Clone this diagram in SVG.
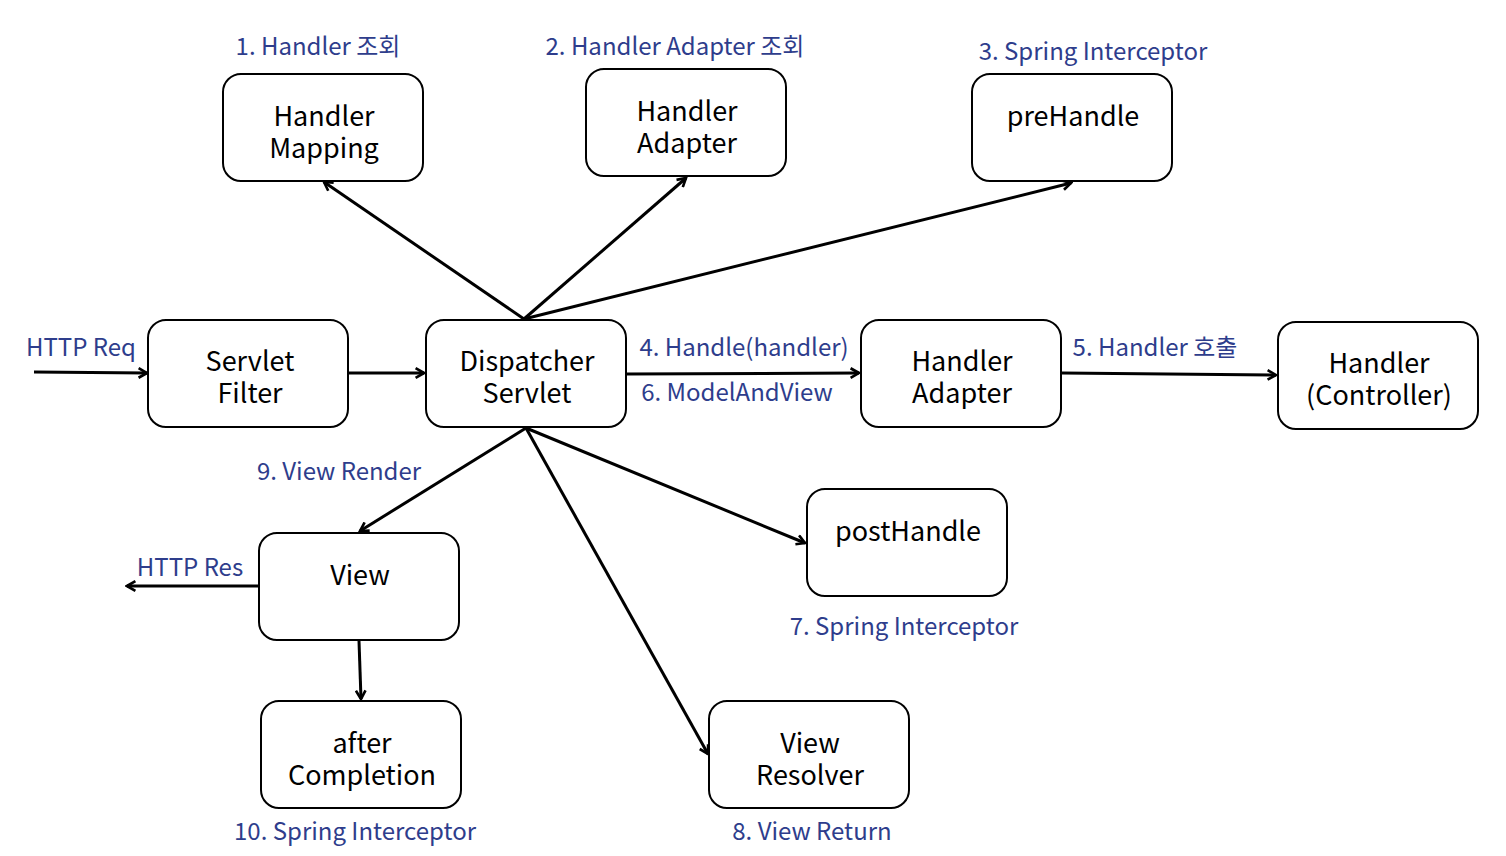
<svg xmlns="http://www.w3.org/2000/svg" width="1506" height="856" viewBox="0 0 1506 856">
<style>
.box{fill:#fff;stroke:#000;stroke-width:2}
.t{font-family:"Noto Sans CJK KR","Noto Sans",sans-serif;font-size:27px;fill:#000;text-anchor:middle;dominant-baseline:central}
.l{font-family:"Noto Sans CJK KR","Noto Sans",sans-serif;font-size:24px;fill:#2e3d8c;text-anchor:middle;dominant-baseline:central}
.c{stroke:#000;stroke-width:3;fill:none;marker-end:url(#arr)}
</style>
<defs>
<marker id="arr" viewBox="0 0 10 10" refX="8" refY="5" markerWidth="4" markerHeight="4" orient="auto" markerUnits="strokeWidth">
<path d="M1,1 L8,5 L1,9" fill="none" stroke="#000" stroke-width="2.2" stroke-linejoin="miter"/>
</marker>
</defs>
<rect width="1506" height="856" fill="#fff"/>
<g id="connectors">
<line class="c" x1="34" y1="372" x2="147" y2="373"/>
<line class="c" x1="349" y1="373" x2="424" y2="373"/>
<line class="c" x1="627" y1="374" x2="859" y2="373"/>
<line class="c" x1="1062" y1="373" x2="1276" y2="375"/>
<line class="c" x1="524" y1="319" x2="324" y2="182"/>
<line class="c" x1="524" y1="319" x2="686" y2="178"/>
<line class="c" x1="524" y1="319" x2="1071" y2="183"/>
<line class="c" x1="526" y1="428" x2="360" y2="531"/>
<line class="c" x1="526" y1="428" x2="805" y2="543"/>
<line class="c" x1="526" y1="428" x2="708" y2="754"/>
<line class="c" x1="258" y1="586" x2="127" y2="586"/>
<line class="c" x1="359" y1="641" x2="361" y2="699"/>
</g>
<g id="handler-mapping"><rect class="box" x="223" y="74" width="200" height="107" rx="18"/><text class="t" x="324" y="114">Handler</text><text class="t" x="324" y="146">Mapping</text></g>
<g id="handler-adapter-top"><rect class="box" x="586" y="69" width="200" height="107" rx="18"/><text class="t" x="687" y="109">Handler</text><text class="t" x="687" y="141">Adapter</text></g>
<g id="prehandle"><rect class="box" x="972" y="74" width="200" height="107" rx="18"/><text class="t" x="1073" y="114">preHandle</text></g>
<g id="servlet-filter"><rect class="box" x="148" y="320" width="200" height="107" rx="18"/><text class="t" x="250" y="359">Servlet</text><text class="t" x="250" y="391">Filter</text></g>
<g id="dispatcher-servlet"><rect class="box" x="426" y="320" width="200" height="107" rx="18"/><text class="t" x="527" y="359">Dispatcher</text><text class="t" x="527" y="391">Servlet</text></g>
<g id="handler-adapter-mid"><rect class="box" x="861" y="320" width="200" height="107" rx="18"/><text class="t" x="962" y="359">Handler</text><text class="t" x="962" y="391">Adapter</text></g>
<g id="handler-controller"><rect class="box" x="1278" y="322" width="200" height="107" rx="18"/><text class="t" x="1379" y="361">Handler</text><text class="t" x="1379" y="393">(Controller)</text></g>
<g id="posthandle"><rect class="box" x="807" y="489" width="200" height="107" rx="18"/><text class="t" x="908" y="529">postHandle</text></g>
<g id="view"><rect class="box" x="259" y="533" width="200" height="107" rx="18"/><text class="t" x="360" y="573">View</text></g>
<g id="after-completion"><rect class="box" x="261" y="701" width="200" height="107" rx="18"/><text class="t" x="362" y="741">after</text><text class="t" x="362" y="773">Completion</text></g>
<g id="view-resolver"><rect class="box" x="709" y="701" width="200" height="107" rx="18"/><text class="t" x="810" y="741">View</text><text class="t" x="810" y="773">Resolver</text></g>
<g id="labels">
<text class="l" x="318" y="44">1. Handler 조회</text>
<text class="l" x="675" y="44">2. Handler Adapter 조회</text>
<text class="l" x="1093" y="49">3. Spring Interceptor</text>
<text class="l" x="81" y="345">HTTP Req</text>
<text class="l" x="744" y="345">4. Handle(handler)</text>
<text class="l" x="737" y="390">6. ModelAndView</text>
<text class="l" x="1155" y="345">5. Handler 호출</text>
<text class="l" x="339" y="469">9. View Render</text>
<text class="l" x="190" y="565">HTTP Res</text>
<text class="l" x="904" y="624">7. Spring Interceptor</text>
<text class="l" x="355" y="829">10. Spring Interceptor</text>
<text class="l" x="812" y="829">8. View Return</text>
</g>
</svg>
